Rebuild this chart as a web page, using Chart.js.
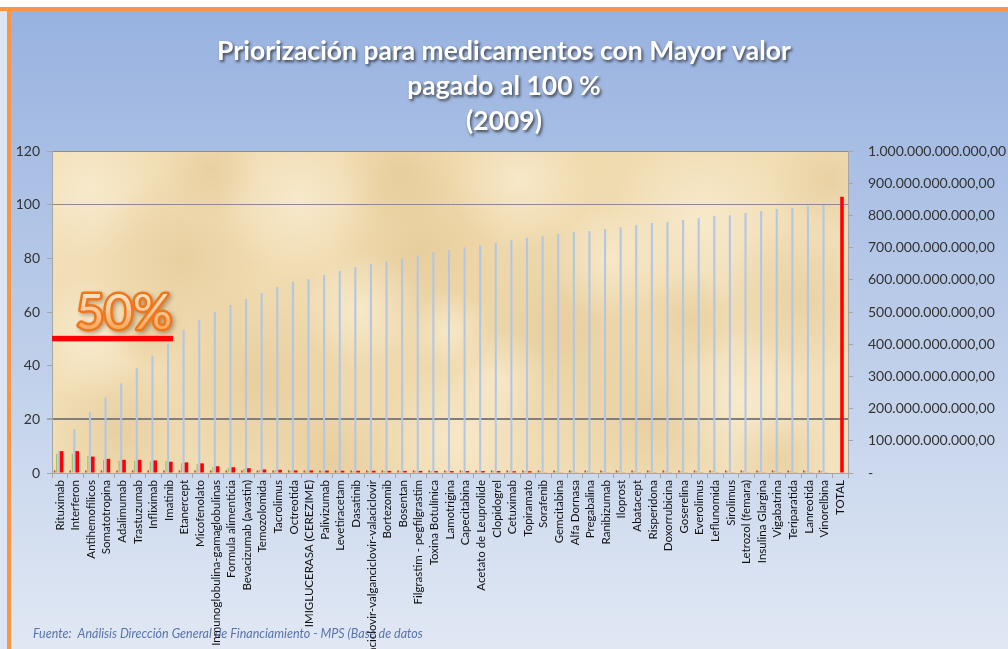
<!DOCTYPE html>
<html>
<head>
<meta charset="utf-8">
<script src="https://cdn.jsdelivr.net/npm/chart.js@4.4.1/dist/chart.umd.min.js"></script>
<style>
html,body{margin:0;padding:0;background:#ffffff;}
#wrap{width:1008px;height:649px;position:relative;overflow:hidden;}
canvas{display:block;}
</style>
</head>
<body>
<div id="wrap"><canvas id="c" width="1008" height="649"></canvas></div>
<script>
// ---------- DATA ----------
const categories = [
  'Rituximab','Interferon','Antihemofílicos','Somatotropina','Adalimumab','Trastuzumab','Infliximab','Imatinib',
  'Etanercept','Micofenolato','Inmunoglobulina-gamaglobulinas','Formula alimenticia','Bevacizumab (avastin)',
  'Temozolomida','Tacrolimus','Octreotida','IMIGLUCERASA (CEREZIME)','Palivizumab','Levetiracetam','Dasatinib',
  'Ganciclovir-valganciclovir-valaciclovir','Bortezomib','Bosentan','Filgrastim - pegfilgrastim','Toxina Botulínica',
  'Lamotrigina','Capecitabina','Acetato de Leuprolide','Clopidogrel','Cetuximab','Topiramato','Sorafenib',
  'Gemcitabina','Alfa Dornasa','Pregabalina','Ranibizumab','Iloprost','Abatacept','Risperidona','Doxorrubicina',
  'Goserelina','Everolimus','Leflunomida','Sirolimus','Letrozol (femara)','Insulina Glargina','Vigabatrina',
  'Teriparatida','Lanreotida','Vinorelbina','TOTAL'
];
// cumulative percentage (left axis, %)
const porcentajeAcumulado = [
  8.2,16.3,22.7,28.1,33.4,39.1,43.8,48.3,53.3,57.0,60.0,62.6,64.8,67.1,69.3,71.2,72.3,73.8,75.3,76.8,
  77.9,79.0,80.1,81.1,82.4,83.1,84.1,84.9,85.7,86.8,87.6,88.3,89.1,89.8,90.2,90.9,91.6,92.4,93.2,93.5,
  94.3,95.0,95.8,96.1,96.9,97.6,98.4,98.8,99.5,99.9,null
];
// value paid (right axis, thousands of millions of pesos)
const valorPagado = [
  68,68,51,44,41,41,39,35,33,30,21,18,15,11,10,8,8,7.5,7,7,
  7,6.5,6.5,6.5,6,6,6,6,6,5.5,5.5,2,2,2,2,2,2,2,2,2,
  2,2,2,2,2,2,2,2,2,2,858
];
// secondary small series (right axis)
const serieRojoOscuro = [
  8,8,8,8,8,8,8,8,8,8,8,8,8,8,8,8,8,8,8,8,
  8,8,8,8,8,8,8,8,8,8,8,8,8,8,8,8,8,8,8,8,
  8,8,8,8,8,8,8,8,8,8,null
];
const serieVerde = [
  60,60,53,40,38,37,36,37,30,28,19,16,13,9,9,7,6,6,6,6,
  6,6,6,6,6,6,6,6,6,6,6,6,6,6,6,6,6,6,6,6,
  6,6,6,6,6,6,6,6,6,6,null
];
const leftTicks = [0,20,40,60,80,100,120];
const rightTickLabels = ['-','100.000.000.000,00','200.000.000.000,00','300.000.000.000,00','400.000.000.000,00',
  '500.000.000.000,00','600.000.000.000,00','700.000.000.000,00','800.000.000.000,00','900.000.000.000,00',
  '1.000.000.000.000,00'];
const titleLines = ['Priorización para medicamentos con Mayor valor','pagado al 100 %','(2009)'];
const fuenteTexto = 'Fuente:  Análisis Dirección General de Financiamiento - MPS (Base de datos';
const marcaTexto = '50%';
const marcaNivel = 50;
const marcaHastaIndice = 7;

// ---------- PLUGINS ----------
// parchment texture spots (decoration only): [x, y, radius, tone]
const blotches = [
  [90,190,70,0],[180,260,90,1],[300,200,80,0],[260,380,100,1],[420,250,90,1],[520,180,70,0],[560,330,110,1],
  [700,220,90,0],[800,300,80,1],[650,420,90,1],[460,440,80,0],[120,430,70,1],[360,310,60,0],[740,400,70,0],
  [830,180,60,1],[610,260,60,0],[210,170,50,1],[400,170,60,1],[500,380,50,0],[90,340,60,0],[780,460,50,1],
  [330,460,60,1],[150,330,40,1],[690,320,50,1],[450,330,40,0]
];
const backgroundPlugin = {
  id: 'bg',
  beforeDraw(chart) {
    const {ctx, width, height, chartArea: a} = chart;
    ctx.save();
    ctx.fillStyle = '#ffffff';
    ctx.fillRect(0, 0, width, height);
    const g = ctx.createLinearGradient(0, 11, 0, height);
    g.addColorStop(0, '#98b2e0');
    g.addColorStop(0.5, '#bccde9');
    g.addColorStop(1, '#e1e8f4');
    ctx.fillStyle = g;
    ctx.fillRect(0, 11, width, height - 11);
    ctx.fillStyle = '#dde5f2';
    ctx.fillRect(0, 11, 7, height - 11);
    // orange frame
    ctx.fillStyle = '#f79646';
    ctx.fillRect(0, 7, width, 4);
    ctx.fillRect(7, 7, 4, height - 7);
    // parchment plot area
    const pg = ctx.createLinearGradient(a.left, a.top, a.right, a.bottom);
    pg.addColorStop(0, '#f2dfb8');
    pg.addColorStop(0.5, '#efd9ac');
    pg.addColorStop(1, '#f3e2bd');
    ctx.fillStyle = pg;
    ctx.fillRect(a.left, a.top, a.right - a.left, a.bottom - a.top);
    ctx.beginPath();
    ctx.rect(a.left, a.top, a.right - a.left, a.bottom - a.top);
    ctx.clip();
    blotches.forEach((b) => {
      const rg = ctx.createRadialGradient(b[0], b[1], 0, b[0], b[1], b[2]);
      if (b[3]) {
        rg.addColorStop(0, 'rgba(222,192,138,0.45)');
        rg.addColorStop(1, 'rgba(222,192,138,0)');
      } else {
        rg.addColorStop(0, 'rgba(250,238,212,0.7)');
        rg.addColorStop(1, 'rgba(250,238,212,0)');
      }
      ctx.fillStyle = rg;
      ctx.fillRect(b[0] - b[2], b[1] - b[2], b[2] * 2, b[2] * 2);
    });
    ctx.restore();
    // footer source text
    ctx.save();
    ctx.font = 'italic 12.5px Lato';
    ctx.fillStyle = '#5a74aa';
    ctx.textBaseline = 'alphabetic';
    ctx.textAlign = 'left';
    ctx.fillText(fuenteTexto, 33, 638);
    ctx.restore();
    // shadow for the title
    const tb = chart.titleBlock;
    if (tb && !tb._shadowPatched) {
      const orig = tb.draw;
      tb.draw = function (...args) {
        const c = this.ctx;
        c.save();
        c.shadowColor = 'rgba(30,30,30,0.75)';
        c.shadowBlur = 3;
        c.shadowOffsetX = 1.5;
        c.shadowOffsetY = 2;
        orig.apply(this, args);
        c.restore();
      };
      tb._shadowPatched = true;
    }
  }
};
const markerPlugin = {
  id: 'marker',
  afterDatasetsDraw(chart) {
    const {ctx, chartArea: a, scales} = chart;
    const yy = scales.y.getPixelForValue(marcaNivel);
    const xEnd = scales.x.getPixelForValue(marcaHastaIndice) + 4;
    ctx.save();
    ctx.fillStyle = '#ff0000';
    ctx.fillRect(a.left, yy - 3, xEnd - a.left, 5.5);
    ctx.font = '49px Lato';
    ctx.textAlign = 'center';
    ctx.textBaseline = 'alphabetic';
    ctx.lineJoin = 'round';
    const cx = a.left + 72, by = yy - 10;
    ctx.shadowColor = 'rgba(60,30,0,0.35)';
    ctx.shadowBlur = 4;
    ctx.shadowOffsetX = 2;
    ctx.shadowOffsetY = 2;
    ctx.strokeStyle = '#f0761a';
    ctx.lineWidth = 5;
    ctx.strokeText(marcaTexto, cx, by);
    ctx.shadowColor = 'rgba(0,0,0,0)';
    const tg = ctx.createLinearGradient(0, by - 36, 0, by);
    tg.addColorStop(0, '#fde6cf');
    tg.addColorStop(1, '#f7a95f');
    ctx.fillStyle = tg;
    ctx.fillText(marcaTexto, cx, by);
    ctx.restore();
  }
};

// ---------- CHART ----------
const FONT = 'Lato';
new Chart(document.getElementById('c'), {
  type: 'bar',
  data: {
    labels: categories,
    datasets: [
      { label: 'Serie 1', data: serieRojoOscuro, backgroundColor: '#b64543', xAxisID: 'x', yAxisID: 'y2',
        categoryPercentage: 0.8, barPercentage: 0.75 },
      { label: 'Valor pagado', data: valorPagado, backgroundColor: '#ff0000', xAxisID: 'x2', yAxisID: 'y2',
        categoryPercentage: 0.46, barPercentage: 1 },
      { label: 'Serie 3', data: serieVerde, backgroundColor: '#9bbb59', xAxisID: 'x', yAxisID: 'y2',
        categoryPercentage: 0.8, barPercentage: 0.5 },
      { label: '% acumulado', data: porcentajeAcumulado, backgroundColor: '#b2c7e3', xAxisID: 'x', yAxisID: 'y',
        categoryPercentage: 0.8, barPercentage: 1 }
    ]
  },
  options: {
    responsive: false,
    devicePixelRatio: 1,
    animation: false,
    layout: { padding: { left: 0, right: 0, top: 0, bottom: 0 } },
    plugins: {
      legend: { display: false },
      tooltip: { enabled: false },
      title: {
        display: true,
        text: titleLines,
        color: '#ffffff',
        font: { family: FONT, size: 26.5, weight: 'bold', lineHeight: 35 / 26.5 },
        padding: { top: 33.5, bottom: 12.5 }
      }
    },
    scales: {
      x: {
        type: 'category',
        offset: true,
        border: { display: true, color: '#a6a6a6' },
        grid: { display: true, drawOnChartArea: false, offset: true, tickLength: 5, color: '#a6a6a6' },
        ticks: { autoSkip: false, maxRotation: 90, minRotation: 90, padding: 2, color: '#111111',
                 font: { family: FONT, size: 11.5 } },
        afterFit(s) { s.height = 176; }
      },
      x2: {
        type: 'category',
        display: false,
        offset: true,
        grid: { offset: true }
      },
      y: {
        position: 'left',
        min: 0, max: 120,
        afterBuildTicks(s) { s.ticks = leftTicks.map(v => ({ value: v })); },
        border: { display: true, color: '#a6a6a6' },
        grid: {
          color: c => (c.tick && (c.tick.value === 20)) ? '#7f7f7f' :
                      (c.tick && (c.tick.value === 100 || c.tick.value === 120)) ? '#8c8c8c' : 'rgba(0,0,0,0)',
          lineWidth: c => (c.tick && c.tick.value === 20) ? 2 : 1,
          tickColor: '#a6a6a6',
          tickLength: 5
        },
        ticks: { color: '#333333', padding: 7, font: { family: FONT, size: 14 } },
        afterFit(s) { s.width = 52; }
      },
      y2: {
        position: 'right',
        min: 0, max: 1000,
        afterBuildTicks(s) { s.ticks = rightTickLabels.map((t, i) => ({ value: i * 100 })); },
        border: { display: true, color: '#a6a6a6' },
        grid: { drawOnChartArea: false, tickLength: 5, color: '#a6a6a6' },
        ticks: {
          color: '#333333', padding: 15, font: { family: FONT, size: 14 },
          callback: (v) => rightTickLabels[Math.round(v / 100)]
        },
        afterFit(s) { s.width = 160; }
      }
    }
  },
  plugins: [backgroundPlugin, markerPlugin]
});
</script>
</body>
</html>
